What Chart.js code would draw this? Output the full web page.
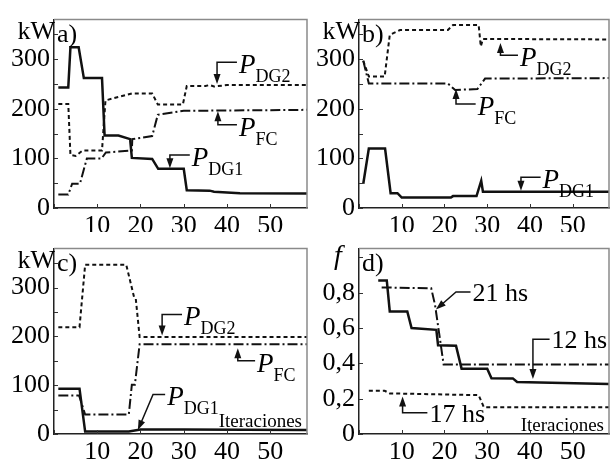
<!DOCTYPE html>
<html>
<head>
<meta charset="utf-8">
<script src="https://cdn.jsdelivr.net/npm/chart.js@4/dist/chart.umd.min.js"></script>
<style>
  body { margin: 0; background: #fff; width: 610px; height: 461px; position: relative; overflow: hidden; }
  canvas { position: absolute; }
</style>
</head>
<body>
<canvas id="pa" width="310" height="232" style="left:0;top:0"></canvas>
<canvas id="pb" width="305" height="232" style="left:305px;top:0"></canvas>
<canvas id="pc" width="310" height="232" style="left:0;top:229px"></canvas>
<canvas id="pd" width="305" height="232" style="left:305px;top:229px"></canvas>
<script>
// --- data (iteration, value) ---
// a)
const aItDG1 = [1, 3.3, 3.8, 5.7, 6.9, 11.1, 11.7, 14.9, 17.6, 18, 22.7, 24.1, 30, 30.7, 36, 37, 43, 58.5];
const aKwDG1 = [243, 243, 324, 324, 262, 262, 146, 146, 139, 101, 99, 79, 79, 36, 35, 33, 30, 29];
const aItDG2 = [1, 3.3, 3.8, 5, 6.6, 11.1, 11.9, 18, 22.7, 24, 29.8, 30.7, 35, 36, 37, 40, 58.5];
const aKwDG2 = [210, 210, 107, 105, 116, 116, 217, 231, 231, 209, 209, 246, 246, 248, 245, 248, 248];
const aItFC = [1, 3.3, 4.2, 6, 7.6, 11, 12, 18, 18.1, 22.7, 24, 30, 58.5];
const aKwFC = [27, 27, 49, 49, 100, 100, 112, 116, 139, 145, 188, 196, 198];
// b)
const bItDG1 = [1, 2.3, 6.1, 7.4, 9, 10, 21.5, 22, 27.5, 28.6, 29, 58.5];
const bKwDG1 = [49, 120, 120, 30, 30, 21, 21, 24, 24, 55, 33, 33];
const bItDG2 = [1, 2.3, 6, 7.2, 9.6, 20.8, 22, 28, 28.5, 29, 58.5];
const bKwDG2 = [297, 265, 265, 349, 359, 359, 369, 369, 326, 341, 340];
const bItFC = [1, 2.3, 20.8, 22.5, 27.7, 29.5, 58.5];
const bKwFC = [297, 251, 251, 238, 240, 261, 262];
// c)
const cItDG1 = [1, 5.9, 7.2, 17.3, 20, 30, 58.5];
const cKwDG1 = [93, 93, 5, 5, 9, 9, 8];
const cItDG2 = [1, 5.9, 7.2, 16.7, 18.5, 18.9, 19.8, 58.5];
const cKwDG2 = [219, 219, 347, 347, 281, 278, 199, 199];
const cItFC = [1, 5.8, 7.2, 17.3, 18, 18.7, 19.8, 58.5];
const cKwFC = [79, 79, 40, 40, 101, 101, 184, 184];
// d)
const dIt12 = [4.5, 6.5, 7.2, 11.3, 12.3, 18.1, 18.5, 22.7, 24, 30, 31, 36, 37, 45, 58.5];
const dF12 = [0.87, 0.87, 0.694, 0.694, 0.6, 0.59, 0.503, 0.5, 0.37, 0.37, 0.316, 0.315, 0.295, 0.29, 0.283];
const dIt21 = [5.3, 16.9, 17.8, 19.8, 58.5];
const dF21 = [0.83, 0.825, 0.73, 0.394, 0.394];
const dIt17 = [2.3, 6, 7.2, 28, 29.2, 58.5];
const dF17 = [0.245, 0.245, 0.23, 0.22, 0.152, 0.152];

const SERIF = '"Liberation Serif", "DejaVu Serif", serif';
const INK = '#111';

function pts(xs, ys) { return xs.map((x, i) => ({ x: x, y: ys[i] })); }

const STYLES = {
    solid: { borderWidth: 2.5, borderDash: [] },
    dash: { borderWidth: 2, borderDash: [4, 3] },
    dashdot: { borderWidth: 2, borderDash: [10, 3, 2, 3] }
};

function series(xs, ys, style) {
    return Object.assign({
        data: pts(xs, ys),
        borderColor: INK,
        pointRadius: 0,
        tension: 0,
        fill: false
    }, STYLES[style]);
}

// frame, inner ticks, panel letters and arrow notes
const decor = {
    id: 'decor',
    afterDraw(chart, args, o) {
        const { ctx, chartArea: a } = chart;
        const xs = chart.scales.x, ys = chart.scales.y;
        ctx.save();
        ctx.strokeStyle = '#8a8a8a';
        ctx.lineWidth = 1.5;
        ctx.beginPath();
        ctx.moveTo(a.left, a.top);
        ctx.lineTo(a.right, a.top);
        ctx.lineTo(a.right, a.bottom);
        ctx.stroke();

        ctx.strokeStyle = '#333';
        ctx.lineWidth = 1;
        ys.ticks.forEach(t => {
            const py = Math.round(ys.getPixelForValue(t.value)) + 0.5;
            ctx.beginPath(); ctx.moveTo(a.left, py); ctx.lineTo(a.left + 4, py); ctx.stroke();
        });
        xs.ticks.forEach(t => {
            const px = Math.round(xs.getPixelForValue(t.value)) + 0.5;
            ctx.beginPath(); ctx.moveTo(px, a.bottom); ctx.lineTo(px, a.bottom - 4); ctx.stroke();
        });

        ctx.fillStyle = '#000';
        ctx.textBaseline = 'alphabetic';
        ctx.textAlign = 'left';
        ctx.font = '26px ' + SERIF;
        ctx.fillText(o.letter, a.left + 3, a.top + 22);
        if (o.unitItalic) {
            ctx.font = 'italic 28px ' + SERIF;
            ctx.textAlign = 'center';
            ctx.fillText(o.unit, a.left - 21, a.top + 15);
        } else {
            ctx.textAlign = 'right';
            ctx.fillText(o.unit, a.left + 1, a.top + 19);
        }

        if (o.iter) {
            ctx.font = '19px ' + SERIF;
            ctx.textAlign = 'right';
            ctx.fillText('Iteraciones', a.right - 5, a.bottom - o.iter);
        }

        (o.notes || []).forEach(n => {
            const tip = [xs.getPixelForValue(n.tip[0]), ys.getPixelForValue(n.tip[1])];
            const elb = [xs.getPixelForValue(n.elbow[0]), ys.getPixelForValue(n.elbow[1])];
            const end = [xs.getPixelForValue(n.end), elb[1]];
            const dx = tip[0] - elb[0], dy = tip[1] - elb[1];
            const len = Math.hypot(dx, dy), ux = dx / len, uy = dy / len;
            const hl = 10, hw = 3.5;
            ctx.strokeStyle = INK;
            ctx.lineWidth = 1.5;
            ctx.beginPath();
            ctx.moveTo(end[0], end[1]);
            ctx.lineTo(elb[0], elb[1]);
            ctx.lineTo(tip[0] - ux * hl * 0.8, tip[1] - uy * hl * 0.8);
            ctx.stroke();
            ctx.fillStyle = INK;
            ctx.beginPath();
            ctx.moveTo(tip[0], tip[1]);
            ctx.lineTo(tip[0] - ux * hl - uy * hw, tip[1] - uy * hl + ux * hw);
            ctx.lineTo(tip[0] - ux * hl + uy * hw, tip[1] - uy * hl - ux * hw);
            ctx.closePath();
            ctx.fill();

            ctx.fillStyle = '#000';
            ctx.textAlign = 'left';
            if (n.sub) {
                ctx.font = 'italic 27px ' + SERIF;
                ctx.fillText(n.txt, end[0] + 2, end[1] + 11);
                const w = ctx.measureText(n.txt).width;
                ctx.font = '18px ' + SERIF;
                ctx.fillText(n.sub, end[0] + 2 + w, end[1] + 20);
            } else {
                ctx.font = '26px ' + SERIF;
                ctx.fillText(n.txt, end[0] + 2, end[1] + 9);
            }
        });
        ctx.restore();
    }
};

function makeChart(id, datasets, y, xHeight, padRight, deco) {
    return new Chart(document.getElementById(id), {
        type: 'line',
        data: { datasets: datasets },
        options: {
            responsive: false,
            animation: false,
            layout: { padding: { top: 13, right: padRight, left: 0, bottom: 0 } },
            plugins: { legend: { display: false }, tooltip: { enabled: false }, decor: deco },
            scales: {
                x: {
                    type: 'linear',
                    min: 0,
                    max: 58.5,
                    grid: { display: false, drawTicks: false },
                    border: { display: true, color: '#222', width: 1.5 },
                    ticks: {
                        stepSize: 10,
                        includeBounds: false,
                        autoSkip: false,
                        maxRotation: 0,
                        padding: 3,
                        color: '#000',
                        font: { family: SERIF, size: 26 },
                        callback: v => (v === 0 ? '' : String(v))
                    },
                    afterFit: s => { s.height = xHeight; }
                },
                y: {
                    min: 0,
                    max: y.max,
                    grid: { display: false, drawTicks: false },
                    border: { display: true, color: '#222', width: 1.5 },
                    ticks: {
                        stepSize: y.step,
                        includeBounds: false,
                        autoSkip: false,
                        padding: 4,
                        color: '#000',
                        font: { family: SERIF, size: 26 },
                        callback: y.label
                    },
                    afterFit: s => { s.width = 54; }
                }
            }
        },
        plugins: [decor]
    });
}

const kwAxis = { max: 380, step: 50, label: v => (v % 100 === 0 ? String(v) : '') };
const fAxis = {
    max: 1.05,
    step: 0.2,
    label: v => {
        const t = Math.round(v * 10);
        return t > 8 ? '' : (t === 0 ? '0' : '0,' + t);
    }
};

makeChart('pa', [
    series(aItDG1, aKwDG1, 'solid'),
    series(aItDG2, aKwDG2, 'dash'),
    series(aItFC, aKwFC, 'dashdot')
], kwAxis, 24, 3, {
    letter: 'a)', unit: 'kW',
    notes: [
        { tip: [37.7, 250], elbow: [37.7, 294], end: 42.3, txt: 'P', sub: 'DG2' },
        { tip: [37.9, 195], elbow: [37.9, 168], end: 42.3, txt: 'P', sub: 'FC' },
        { tip: [26.8, 80], elbow: [26.8, 107], end: 31.4, txt: 'P', sub: 'DG1' }
    ]
});

makeChart('pb', [
    series(bItDG1, bKwDG1, 'solid'),
    series(bItDG2, bKwDG2, 'dash'),
    series(bItFC, bKwFC, 'dashdot')
], kwAxis, 24, 1, {
    letter: 'b)', unit: 'kW',
    notes: [
        { tip: [33.1, 333], elbow: [33.1, 308], end: 37.2, txt: 'P', sub: 'DG2' },
        { tip: [22.7, 240], elbow: [22.7, 210], end: 27.3, txt: 'P', sub: 'FC' },
        { tip: [37.9, 35], elbow: [37.9, 62], end: 42.5, txt: 'P', sub: 'DG1' }
    ]
});

makeChart('pc', [
    series(cItDG1, cKwDG1, 'solid'),
    series(cItDG2, cKwDG2, 'dash'),
    series(cItFC, cKwFC, 'dashdot')
], kwAxis, 27, 3, {
    letter: 'c)', unit: 'kW', iter: 7,
    notes: [
        { tip: [25, 202], elbow: [25, 245], end: 29.6, txt: 'P', sub: 'DG2' },
        { tip: [42.5, 176], elbow: [42.5, 150], end: 46.5, txt: 'P', sub: 'FC' },
        { tip: [19.4, 8], elbow: [22.9, 81], end: 25.7, txt: 'P', sub: 'DG1' }
    ]
});

makeChart('pd', [
    series(dIt12, dF12, 'solid'),
    series(dIt21, dF21, 'dashdot'),
    series(dIt17, dF17, 'dash')
], fAxis, 27, 1, {
    letter: 'd)', unit: 'f', unitItalic: true, iter: 3,
    notes: [
        { tip: [18.0, 0.705], elbow: [22.7, 0.804], end: 26.1, txt: '21 hs' },
        { tip: [40.7, 0.312], elbow: [40.7, 0.536], end: 44.6, txt: '12 hs' },
        { tip: [10.2, 0.213], elbow: [10.2, 0.12], end: 16.0, txt: '17 hs' }
    ]
});
</script>
</body>
</html>
